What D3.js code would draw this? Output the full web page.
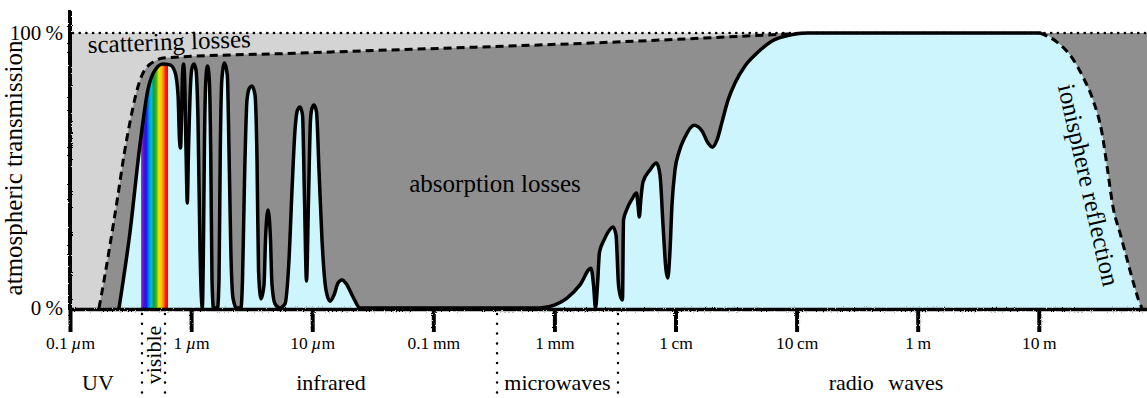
<!DOCTYPE html>
<html>
<head>
<meta charset="utf-8">
<script src="https://cdn.jsdelivr.net/npm/d3@7"></script>
<style>
  body { margin: 0; background: #fff; }
  svg text { font-family: "Liberation Serif", "Times New Roman", serif; fill: #000; }
</style>
</head>
<body>
<svg id="chart" width="1147" height="398"></svg>
<script>
// Atmospheric transmission across the electromagnetic spectrum.
// Wavelengths in micrometres, transmission in percent.

// Transmitted fraction (solid outline), [wavelength µm, %]
const transmission = [
  [0.254, 0], [0.313, 27.6], [0.378, 59.3], [0.441, 79.6], [0.503, 86.5], [0.586, 88.7],
  [0.670, 88.4], [0.736, 85.8], [0.780, 77.5], [0.802, 61.1], [0.818, 58.2], [0.833, 68.4],
  [0.849, 84.7], [0.866, 88.7], [0.882, 84.7], [0.908, 57.5], [0.930, 38.2], [0.952, 57.5],
  [0.989, 81.1], [1.017, 87.3], [1.057, 88.7], [1.098, 86.5], [1.140, 68.4], [1.185, 21.1],
  [1.219, 2.9], [1.238, 0], [1.261, 17.5], [1.290, 61.1], [1.323, 82.9], [1.366, 88.0],
  [1.414, 82.9], [1.455, 53.8], [1.488, 10.2], [1.531, 0], [1.652, 0], [1.700, 10.2],
  [1.742, 57.5], [1.793, 82.9], [1.887, 89.1], [1.991, 84.7], [2.056, 57.5], [2.128, 21.1],
  [2.218, 3.6], [2.371, 0], [2.582, 0], [2.657, 10.2], [2.761, 46.5], [2.894, 75.6],
  [3.035, 80.0], [3.184, 80.7], [3.371, 77.5], [3.502, 53.8], [3.603, 13.8], [3.778, 3.3],
  [3.999, 8.4], [4.115, 24.7], [4.315, 35.6], [4.526, 24.7], [4.656, 8.4], [4.932, 1.5],
  [5.422, 0], [5.963, 1.5], [6.433, 17.5], [6.812, 42.9], [7.211, 64.7], [7.561, 72.0],
  [7.930, 73.1], [8.318, 70.2], [8.639, 39.3], [8.974, 9.8], [9.320, 39.3], [9.681, 68.4],
  [9.961, 72.7], [10.35, 73.8], [10.85, 71.3], [11.38, 50.2], [12.05, 24.7], [13.00, 6.5],
  [14.03, 2.5], [15.14, 4.7], [16.33, 9.1], [17.62, 10.2], [19.38, 8.4], [21.73, 4.0],
  [24.82, 0], [760, 0], [1012, 1.1], [1271, 3.6], [1627, 8.4], [2006, 14.5],
  [2104, 8.4], [2185, 0], [2270, 8.4], [2358, 20.4], [2568, 24.7], [2771, 27.6],
  [3047, 29.5], [3227, 26.5], [3383, 8.4], [3548, 3.6], [3650, 2.9], [3721, 32.0],
  [3977, 36.0], [4373, 39.6], [4764, 41.8], [4901, 37.5], [5024, 33.1], [5170, 39.3],
  [5390, 45.8], [6156, 50.2], [6967, 52.7], [7447, 48.4], [7885, 30.2], [8348, 13.8],
  [8638, 10.9], [8972, 19.3], [9354, 37.5], [9903, 50.2], [10690, 56.7], [11980, 62.2],
  [14220, 66.5], [16560, 64.4], [18550, 60.0], [20210, 58.5], [22020, 61.1], [24210, 67.6],
  [27140, 75.6], [30990, 81.8], [37490, 88.0], [47100, 92.7], [62670, 97.1], [88220, 99.3],
  [121900, 100], [8.46e6, 100], [1.023e7, 100]
];

// Cut-off by ionosphere reflection (dashed outline)
const ionosphere = [
  [1.023e7, 100], [1.414e7, 96.7], [1.809e7, 92.0], [2.317e7, 84.0], [2.803e7, 75.6],
  [3.326e7, 63.6], [3.727e7, 49.1], [4.100e7, 36.7], [4.683e7, 27.3], [5.454e7, 16.4],
  [6.111e7, 8.4], [6.849e7, 1.5], [7.114e7, 0]
];

// Upper limit set by scattering (dashed outline)
const scattering = [
  [0.1736, 0], [0.1945, 12.0], [0.2139, 22.9], [0.2491, 41.1], [0.2792, 55.6],
  [0.3129, 67.6], [0.3508, 77.8], [0.3932, 84.7], [0.4406, 88.0], [0.503, 89.8],
  [0.586, 90.9], [7.93, 92.7], [5091, 97.1], [121900, 100]
];

// Axis ticks
const tickValues = [0.1, 1, 10, 100, 1000, 1e4, 1e5, 1e6, 1e7];
const tickLabels = ["0.1 µm", "1 µm", "10 µm", "0.1 mm", "1 mm", "1 cm", "10 cm", "1 m", "10 m"];
const percentTicks = [0, 100];

// Spectral bands
const visibleBand = [0.386, 0.645];          // colour strip
const bandEdges = [0.393, 0.609, 336, 3350];  // dotted separators
const bandNames = ["UV", "infrared", "microwaves", "radio waves"];
const bandLabelAt = [0.17, 14.3, 1061, 5.47e5];

const svg = d3.select("#chart");
const x = d3.scaleLog().domain([0.1, 1e8]).range([70, 1159.9]);
const y = d3.scaleLinear().domain([0, 100]).range([308, 33]);

const defs = svg.append("defs");

// hand-drawn look for the axes
const rough = defs.append("filter").attr("id", "rough")
  .attr("filterUnits", "userSpaceOnUse")
  .attr("x", -200).attr("y", -500).attr("width", 1600).attr("height", 1000);
rough.append("feTurbulence").attr("type", "fractalNoise").attr("baseFrequency", 0.9)
  .attr("numOctaves", 2).attr("seed", 4).attr("result", "noise");
rough.append("feDisplacementMap").attr("in", "SourceGraphic").attr("in2", "noise")
  .attr("scale", 2.6).attr("xChannelSelector", "R").attr("yChannelSelector", "G");

const grad = defs.append("linearGradient").attr("id", "rainbow")
  .attr("gradientUnits", "userSpaceOnUse")
  .attr("x1", x(visibleBand[0])).attr("x2", x(visibleBand[1])).attr("y1", 0).attr("y2", 0);
[[0, "#9b30e8"], [0.1, "#5a10c8"], [0.2, "#1020f0"], [0.3, "#0090f0"], [0.38, "#00c0d0"],
 [0.47, "#00a040"], [0.57, "#50b020"], [0.66, "#e8e800"], [0.75, "#ffc800"],
 [0.83, "#ff8000"], [0.9, "#ff2000"], [1, "#ff0000"]]
  .forEach(([o, c]) => grad.append("stop").attr("offset", o).attr("stop-color", c));

const px = d => x(d[0]);
const py = d => y(d[1]);

const areaGen = d3.area().x(px).y0(y(0)).y1(py).curve(d3.curveMonotoneX);
const lineGen = d3.line().x(px).y(py).curve(d3.curveMonotoneX);

const passed = transmission.concat(ionosphere.slice(1));
const envelope = scattering.concat([[1e8, 100]]);

// scattering losses: everything up to 100 %
svg.append("path").attr("d", areaGen([[0.1, 100], [1e8, 100]])).attr("fill", "#d4d4d4");
// absorption losses: below the scattering limit
svg.append("path").attr("d", areaGen(envelope)).attr("fill", "#8f8f8f");
// transmitted part
svg.append("path").attr("d", areaGen(passed)).attr("fill", "#cdf5fe");

defs.append("clipPath").attr("id", "passClip")
  .append("path").attr("d", areaGen(passed));
svg.append("rect")
  .attr("x", x(visibleBand[0])).attr("width", x(visibleBand[1]) - x(visibleBand[0]))
  .attr("y", y(100)).attr("height", y(0) - y(100))
  .attr("fill", "url(#rainbow)").attr("clip-path", "url(#passClip)");

// outlines
svg.append("path").attr("d", lineGen(scattering))
  .attr("fill", "none").attr("stroke", "#000").attr("stroke-width", 3)
  .attr("stroke-dasharray", "8,5");
svg.append("path").attr("d", lineGen(ionosphere))
  .attr("fill", "none").attr("stroke", "#000").attr("stroke-width", 3)
  .attr("stroke-dasharray", "8,5");
svg.append("path").attr("d", lineGen(transmission))
  .attr("fill", "none").attr("stroke", "#000").attr("stroke-width", 3.5)
  .attr("stroke-linejoin", "round").attr("stroke-linecap", "round");

// 100 % reference
svg.append("line")
  .attr("x1", x(0.1) + 3).attr("x2", 1147).attr("y1", y(100)).attr("y2", y(100))
  .attr("stroke", "#000").attr("stroke-width", 2.7).attr("stroke-linecap", "round")
  .attr("stroke-dasharray", "0,6.7");

// band separators
svg.selectAll(".sep").data(bandEdges).join("line").attr("class", "sep")
  .attr("x1", d => x(d)).attr("x2", d => x(d))
  .attr("y1", y(0) + 6).attr("y2", 398)
  .attr("stroke", "#000").attr("stroke-width", 2.5).attr("stroke-linecap", "round")
  .attr("stroke-dasharray", "0,9.8");

// x axis
const xAxis = d3.axisBottom(x).tickValues(tickValues).tickSize(23).tickSizeOuter(0)
  .tickPadding(5).tickFormat(() => "");
const gx = svg.append("g").attr("transform", `translate(0,${y(0) + 1})`).call(xAxis);
gx.select(".domain").attr("stroke", "#000").attr("stroke-width", 3.5).attr("filter", "url(#rough)");
gx.selectAll(".tick line").attr("stroke", "#000").attr("stroke-width", 4).attr("filter", "url(#rough)");
gx.selectAll(".tick text").each(function (d, i) {
  const t = d3.select(this).attr("font-size", 17.5).attr("fill", "#000");
  const [num, unit] = tickLabels[i].split(" ");
  t.append("tspan").text(num + "\u2009");
  if (unit.startsWith("µ")) {
    t.append("tspan").attr("font-style", "italic").text("µ");
    t.append("tspan").text(unit.slice(1));
  } else {
    t.append("tspan").text(unit);
  }
});

// y axis
const yAxis = d3.axisLeft(y).tickValues(percentTicks).tickSize(0).tickPadding(7)
  .tickFormat(d => d + "\u2009%");
const gy = svg.append("g").attr("transform", `translate(${x(0.1)},0)`).call(yAxis);
gy.select(".domain").attr("d", `M0,${y(0) + 2}V10`)
  .attr("stroke", "#000").attr("stroke-width", 4).attr("filter", "url(#rough)");
gy.selectAll(".tick text").attr("font-size", 21).attr("fill", "#000");

svg.append("text")
  .attr("transform", `translate(22,168) rotate(-90)`)
  .attr("text-anchor", "middle").attr("font-size", 25)
  .text("atmospheric transmission");

// region labels
svg.append("text")
  .attr("transform", `translate(88,53) rotate(-2.1)`)
  .attr("font-size", 25).text("scattering losses");
svg.append("text")
  .attr("x", 495).attr("y", 192).attr("text-anchor", "middle")
  .attr("font-size", 25).text("absorption losses");
svg.append("text")
  .attr("transform", `translate(1089,185) rotate(77.3)`)
  .attr("text-anchor", "middle").attr("dy", "0.35em")
  .attr("font-size", 25).text("ionisphere reflection");

// band labels
svg.selectAll(".band").data(bandNames).join("text").attr("class", "band")
  .attr("x", (d, i) => x(bandLabelAt[i])).attr("y", 390)
  .attr("text-anchor", "middle").attr("font-size", 22)
  .attr("word-spacing", d => d === "radio waves" ? 9 : 0)
  .text(d => d);
svg.append("text")
  .attr("transform", `translate(161,355) rotate(-90)`)
  .attr("text-anchor", "middle").attr("font-size", 22)
  .text("visible");
</script>
</body>
</html>
